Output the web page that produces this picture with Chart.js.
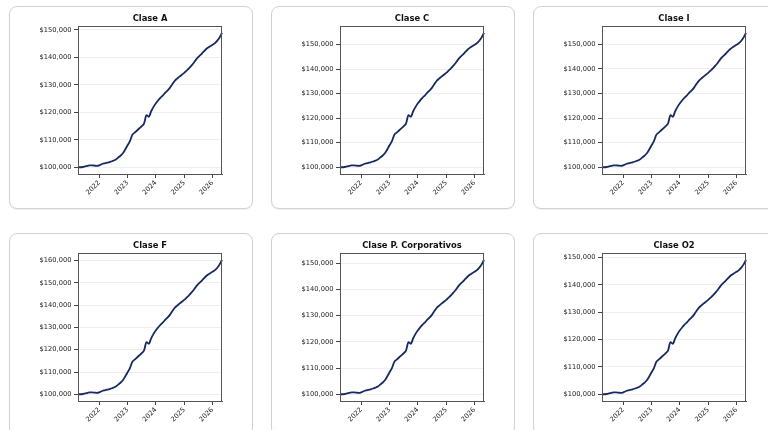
<!DOCTYPE html>
<html>
<head>
<meta charset="utf-8">
<script src="https://cdn.jsdelivr.net/npm/chart.js@4.4.1/dist/chart.umd.min.js"></script>
<style>
  html, body { margin: 0; padding: 0; background: #fff; width: 768px; height: 430px; overflow: hidden; }
  .card { position: absolute; width: 244px; height: 203px; box-sizing: border-box;
          border: 1px solid #d2d2d2; border-radius: 8px; background: #fff;
          box-shadow: 0 1px 1px rgba(0,0,0,0.06); }
  .wrap { position: relative; width: 242px; height: 201px; }
</style>
</head>
<body>
<div class="card" style="left:9px;top:6px"><div class="wrap"><canvas id="c0"></canvas></div></div>
<div class="card" style="left:271px;top:6px"><div class="wrap"><canvas id="c1"></canvas></div></div>
<div class="card" style="left:533px;top:6px"><div class="wrap"><canvas id="c2"></canvas></div></div>
<div class="card" style="left:9px;top:233px"><div class="wrap"><canvas id="c3"></canvas></div></div>
<div class="card" style="left:271px;top:233px"><div class="wrap"><canvas id="c4"></canvas></div></div>
<div class="card" style="left:533px;top:233px"><div class="wrap"><canvas id="c5"></canvas></div></div>
<script>
const months = [
  '2021-04','2021-05','2021-06','2021-07','2021-08','2021-09','2021-10','2021-11','2021-12',
  '2022-01','2022-02','2022-03','2022-04','2022-05','2022-06','2022-07','2022-08','2022-09','2022-10','2022-11','2022-12',
  '2023-01','2023-02','2023-03','2023-04','2023-05','2023-06','2023-07','2023-08','2023-09','2023-10','2023-11','2023-12',
  '2024-01','2024-02','2024-03','2024-04','2024-05','2024-06','2024-07','2024-08','2024-09','2024-10','2024-11','2024-12',
  '2025-01','2025-02','2025-03','2025-04','2025-05','2025-06','2025-07','2025-08','2025-09','2025-10','2025-11','2025-12',
  '2026-01','2026-02','2026-03','2026-04','2026-05'
];
const yearTicks = ['2022','2023','2024','2025','2026'];

const claseA = [100000,100000,100100,100300,100500,100700,100700,100600,100500,
  100700,101100,101400,101600,101800,102100,102400,102800,103500,104200,105100,106500,
  108000,109500,111800,112600,113400,114200,115000,116000,119000,118400,120400,122000,
  123300,124400,125400,126200,127200,128000,129000,130300,131500,132300,133000,133700,
  134400,135200,136000,137000,138000,139200,140200,141000,141900,142800,143500,144100,
  144600,145200,146100,147300,149000];
const claseC = [100000,100000,100110,100340,100560,100780,100780,100670,100560,
  100780,101230,101570,101790,102020,102350,102690,103140,103920,104700,105710,107280,
  108960,110640,113220,114110,115010,115900,116800,117920,121280,120610,122850,124640,
  126100,127330,128450,129340,130460,131360,132480,133940,135280,136180,136960,137740,
  138530,139420,140320,141440,142560,143900,145020,145920,146930,147940,148720,149390,
  149950,150620,151630,152980,154880];
const claseI = [100000,100000,100110,100330,100560,100780,100780,100670,100560,
  100780,101230,101560,101780,102010,102340,102680,103120,103900,104680,105690,107250,
  108920,110590,113160,114050,114940,115830,116730,117840,121190,120520,122750,124530,
  125980,127210,128320,129210,130330,131220,132340,133780,135120,136010,136800,137580,
  138360,139250,140140,141260,142370,143710,144820,145720,146720,147720,148500,149170,
  149730,150400,151400,152740,154640];
const claseF = [100000,100000,100120,100370,100620,100860,100860,100740,100620,
  100860,101360,101730,101970,102220,102590,102960,103450,104320,105180,106290,108010,
  109860,111710,114550,115540,116520,117510,118500,119730,123430,122690,125150,127130,
  128730,130090,131320,132300,133540,134520,135760,137360,138840,139830,140690,141550,
  142420,143400,144390,145620,146850,148330,149570,150550,151660,152770,153640,154380,
  154990,155730,156840,158320,160420];
const claseP = [100000,100000,100100,100310,100520,100730,100730,100630,100520,
  100730,101150,101470,101680,101890,102200,102520,102930,103670,104400,105340,106810,
  108380,109960,112370,113200,114040,114880,115720,116770,119910,119280,121380,123060,
  124420,125570,126620,127460,128510,129340,130390,131750,133010,133850,134580,135320,
  136050,136890,137730,138780,139820,141080,142130,142970,143910,144850,145590,146220,
  146740,147370,148310,149570,151350];
const claseO2 = [100000,100000,100100,100300,100500,100700,100700,100600,100500,
  100700,101100,101400,101600,101810,102110,102410,102810,103510,104210,105120,106520,
  108020,109530,111840,112640,113440,114240,115050,116050,119060,118460,120460,122070,
  123370,124470,125480,126280,127280,128080,129090,130390,131590,132400,133100,133800,
  134500,135310,136110,137110,138110,139320,140320,141120,142030,142930,143630,144230,
  144730,145340,146240,147440,149150];

const titles = ['Clase A','Clase C','Clase I','Clase F','Clase P. Corporativos','Clase O2'];
const seriesList = [claseA, claseC, claseI, claseF, claseP, claseO2];
const yTicks150 = [100000,110000,120000,130000,140000,150000];
const yTicks160 = [100000,110000,120000,130000,140000,150000,160000];
const yTicksList = [yTicks150, yTicks150, yTicks150, yTicks160, yTicks150, yTicks150];

const FONT = '"DejaVu Sans", sans-serif';
const lineColor = '#172a60';
const spineColor = '#555555';

const framePlugin = {
  id: 'frameTitle',
  afterDraw(chart, args, opts) {
    const {ctx, chartArea: a} = chart;
    ctx.save();
    ctx.strokeStyle = spineColor;
    ctx.lineWidth = 1;
    ctx.strokeRect(Math.round(a.left) + 0.5, Math.round(a.top) + 0.5,
                   Math.round(a.right - a.left) - 1, Math.round(a.bottom - a.top));
    ctx.fillStyle = '#111';
    ctx.font = 'bold 8.4px ' + FONT;
    ctx.textAlign = 'center';
    ctx.textBaseline = 'middle';
    ctx.fillText(opts.text, (a.left + a.right) / 2, a.top - 7.5);
    ctx.restore();
  }
};

seriesList.forEach((data, i) => {
  const lo = Math.min(...data), hi = Math.max(...data);
  const span = hi - lo;
  const yt = yTicksList[i];
  new Chart(document.getElementById('c' + i), {
    type: 'line',
    data: {
      labels: months,
      datasets: [{
        data: data,
        borderColor: lineColor,
        borderWidth: 1.8,
        pointRadius: 0,
        cubicInterpolationMode: 'monotone',
        fill: false
      }]
    },
    plugins: [framePlugin],
    options: {
      responsive: true,
      maintainAspectRatio: false,
      animation: false,
      events: [],
      layout: { padding: { top: 19, right: 30, left: 0, bottom: 0 } },
      plugins: {
        legend: { display: false },
        tooltip: { enabled: false },
        title: { display: false },
        frameTitle: { text: titles[i] }
      },
      scales: {
        x: {
          type: 'category',
          offset: false,
          afterBuildTicks(s) {
            s.ticks = s.ticks.filter(t => yearTicks.includes(months[t.value]) || yearTicks.includes(months[t.value].slice(0,4)) && months[t.value].endsWith('-01'));
          },
          afterFit(s) { s.height = 34; },
          ticks: {
            autoSkip: false,
            maxRotation: 45,
            minRotation: 45,
            padding: 1,
            color: '#222',
            font: { family: FONT, size: 6.7 },
            callback(v) { return months[v].slice(0, 4); }
          },
          grid: { drawOnChartArea: false, drawTicks: true, tickLength: 4, tickColor: '#444', tickWidth: 1 },
          border: { display: true, color: spineColor }
        },
        y: {
          type: 'linear',
          min: lo - 0.05 * span,
          max: hi + 0.05 * span,
          afterBuildTicks(s) { s.ticks = yt.map(v => ({ value: v })); },
          afterFit(s) { s.width = 68; },
          ticks: {
            padding: 2.5,
            color: '#222',
            font: { family: FONT, size: 6.7 },
            callback(v) { return '$' + Number(v).toLocaleString('en-US'); }
          },
          grid: { color: '#efefef', lineWidth: 1, drawTicks: true, tickLength: 4, tickColor: '#444', tickWidth: 1 },
          border: { display: true, color: spineColor }
        }
      }
    }
  });
});
</script>
</body>
</html>
